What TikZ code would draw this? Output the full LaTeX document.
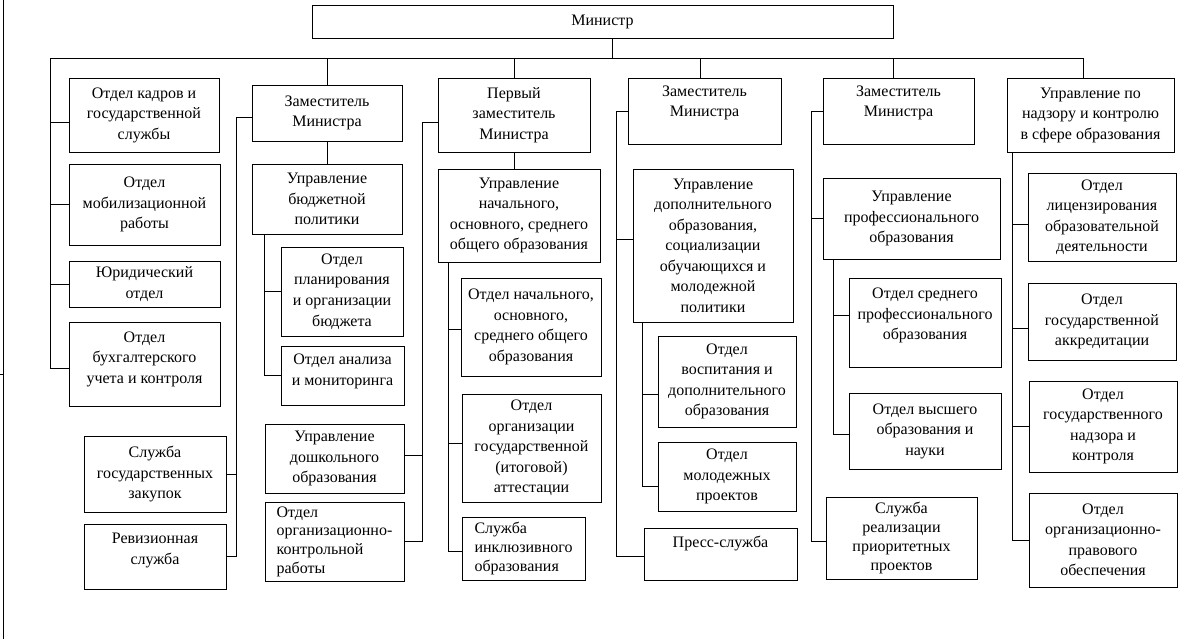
\documentclass[tikz,border=0pt]{standalone}
\usepackage{fontspec}
\setmainfont{Liberation Serif}
\usetikzlibrary{fit,calc}
\newcommand\orgbox[7][]{\node[bxf,fit={(#3,#4)(#5,#6)}] (#2) {};
  \node[txt,#1] (#2t) at (#2.center) {#7};}
\begin{document}
\begin{tikzpicture}[x=1pt,y=-1pt,
  ln/.style={line width=0.8pt},
  bxf/.style={draw, line width=0.8pt, inner sep=0pt},
  txt/.style={inner sep=0pt, align=center, font=\fontsize{16}{20.5}\selectfont},
  tight/.style={font=\fontsize{16}{18.7}\selectfont}]
\useasboundingbox (0,0) rectangle (1200,639);

% boxes
\orgbox{min}{312}{5}{893}{38}{Министр}
\orgbox{kadry}{69}{78}{219}{152}{Отдел кадров и\\государственной\\службы}
\orgbox{mob}{69}{164}{220}{245}{Отдел\\мобилизационной\\работы}
\orgbox{jur}{69}{261}{220}{307}{Юридический\\отдел}
\orgbox[yshift=5]{buh}{69}{322}{220}{406}{Отдел\\бухгалтерского\\учета и контроля}
\orgbox{zakup}{84}{436}{226}{512}{Служба\\государственных\\закупок}
\orgbox[yshift=6]{reviz}{84}{524}{226}{589}{Ревизионная\\служба}

\orgbox{zam2}{252}{85}{402}{141}{Заместитель\\Министра}
\orgbox{upb}{252}{164}{402}{234}{Управление\\бюджетной\\политики}
\orgbox{plan}{281}{247}{403}{336}{Отдел\\планирования\\и организации\\бюджета}
\orgbox[yshift=4]{analiz}{281}{346}{404}{405}{Отдел анализа\\и мониторинга}
\orgbox{doshk}{265}{424}{404}{493}{Управление\\дошкольного\\образования}
\orgbox[align=left,tight]{orgk}{265}{502}{404}{581}{Отдел\\организационно-\\контрольной\\работы}

\orgbox{perv}{438}{78}{590}{152}{Первый\\заместитель\\Министра}
\orgbox{upn}{438}{169}{600}{262}{Управление\\начального,\\основного, среднего\\общего образования}
\orgbox{otdn}{461}{278}{601}{376}{Отдел начального,\\основного,\\среднего общего\\образования}
\orgbox{attest}{462}{394}{601}{502}{Отдел\\организации\\государственной\\(итоговой)\\аттестации}
\orgbox[align=left,tight]{inkl}{462}{517}{585}{580}{Служба\\инклюзивного\\образования}

\orgbox[yshift=8]{zam4}{628}{78}{781}{144}{Заместитель\\Министра}
\orgbox{upd}{633}{169}{793}{322}{Управление\\дополнительного\\образования,\\социализации\\обучающихся и\\молодежной\\политики}
\orgbox{vosp}{658}{336}{796}{427}{Отдел\\воспитания и\\дополнительного\\образования}
\orgbox{molod}{658}{442}{796}{511}{Отдел\\молодежных\\проектов}
\orgbox[yshift=11]{press}{644}{528}{797}{580}{Пресс-служба}

\orgbox[yshift=8]{zam5}{823}{78}{974}{144}{Заместитель\\Министра}
\orgbox{uprof}{823}{178}{1000}{259}{Управление\\профессионального\\образования}
\orgbox[yshift=7]{sredn}{849}{278}{1001}{367}{Отдел среднего\\профессионального\\образования}
\orgbox{vyssh}{849}{393}{1001}{469}{Отдел высшего\\образования и\\науки}
\orgbox[tight]{sreal}{826}{497}{977}{579}{Служба\\реализации\\приоритетных\\проектов}

\orgbox{nadz}{1007}{78}{1174}{152}{Управление по\\надзору и контролю\\в сфере образования}
\orgbox{lic}{1028}{173}{1176}{261}{Отдел\\лицензирования\\образовательной\\деятельности}
\orgbox{akk}{1028}{283}{1176}{360}{Отдел\\государственной\\аккредитации}
\orgbox{gnadz}{1029}{381}{1177}{472}{Отдел\\государственного\\надзора и\\контроля}
\orgbox{orgpr}{1029}{493}{1177}{587}{Отдел\\организационно-\\правового\\обеспечения}

% page border line (scan edge)
\coordinate (edgeT) at (3.5,0);
\coordinate (edgeB) at (3.5,639);
\draw[ln] (edgeT) -- (edgeB);
\draw[ln] (0,374) -- (3.5,374);

% top bus
\coordinate (busW) at (50,58);
\coordinate (busE) at (1083,58);
\draw[ln] (busW) -- (busE);
\draw[ln] ([xshift=9.5]min.south) -- ([xshift=9.5]min.south |- busW);
\draw[ln] (zam2.north) -- (zam2.north |- busW);
\draw[ln] (perv.north) -- (perv.north |- busW);
\draw[ln] ([xshift=-4.5]zam4.north) -- ([xshift=-4.5]zam4.north |- busW);
\draw[ln] ([xshift=-5.5]zam5.north) -- ([xshift=-5.5]zam5.north |- busW);
\draw[ln] (busE) -- (busE |- nadz.north);

% column 1
\draw[ln] (busW) |- ([yshift=-4]buh.west);
\draw[ln] ([yshift=-7]kadry.west) -- ([yshift=-7]kadry.west -| busW);
\draw[ln] (mob.west) -- (mob.west -| busW);
\draw[ln] (jur.west) -- (jur.west -| busW);

% column 2
\draw[ln] ([yshift=-4]zam2.west) -- ++(-15,0) coordinate (s2) |- (reviz.east);
\draw[ln] (zakup.east) -- (zakup.east -| s2);
\draw[ln] (zam2.south) -- (upb.north);
\draw[ln] ([xshift=13]upb.south west) coordinate (s2b) |- (analiz.west);
\draw[ln] (plan.west) -- (plan.west -| s2b);

% column 3
\draw[ln] ([yshift=-7]perv.west) -- ++(-15,0) coordinate (s3) |- (orgk.east);
\draw[ln] ([yshift=3]doshk.east) -- ([yshift=3]doshk.east -| s3);
\draw[ln] (perv.south) -- (perv.south |- upn.north);
\draw[ln] ([xshift=11]upn.south west) coordinate (s3b) |- ([yshift=-2.5]inkl.west);
\draw[ln] ([yshift=-2]otdn.west) -- ([yshift=-2]otdn.west -| s3b);
\draw[ln] ([yshift=5]attest.west) -- ([yshift=5]attest.west -| s3b);

% column 4
\draw[ln] (zam4.west) -- ++(-11,0) coordinate (s4) |- ([yshift=-2]press.west);
\draw[ln] ([yshift=6]upd.west) -- ([yshift=6]upd.west -| s4);
\draw[ln] ([xshift=10]upd.south west) coordinate (s4b) |- ([yshift=-9.5]molod.west);
\draw[ln] ([yshift=-12.5]vosp.west) -- ([yshift=-12.5]vosp.west -| s4b);

% column 5
\draw[ln] (zam5.west) -- ++(-11,0) coordinate (s5) |- ([yshift=-3]sreal.west);
\draw[ln] (uprof.west) -- (uprof.west -| s5);
\draw[ln] ([xshift=11]uprof.south west) coordinate (s5b) |- ([yshift=-3]vyssh.west);
\draw[ln] ([yshift=7.5]sredn.west) -- ([yshift=7.5]sredn.west -| s5b);

% column 6
\draw[ln] ([xshift=6]nadz.south west) coordinate (s6) |- (orgpr.west);
\draw[ln] ([yshift=-7]lic.west) -- ([yshift=-7]lic.west -| s6);
\draw[ln] ([yshift=-6.5]akk.west) -- ([yshift=-6.5]akk.west -| s6);
\draw[ln] (gnadz.west) -- (gnadz.west -| s6);
\end{tikzpicture}
\end{document}
